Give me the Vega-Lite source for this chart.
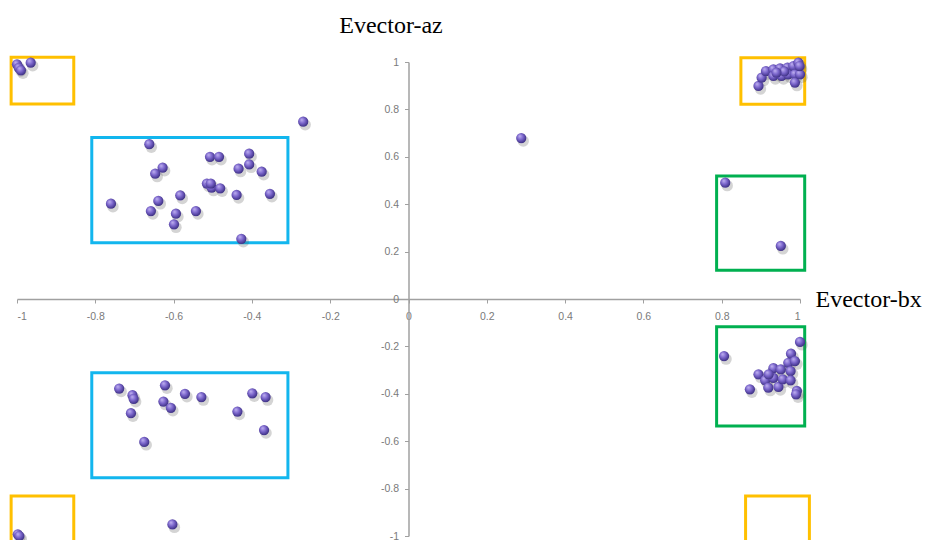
{
  "$schema": "https://vega.github.io/schema/vega-lite/v6.json",
  "autosize": "none",
  "width": 783,
  "height": 474,
  "padding": {"left": 17, "top": 62, "right": 128, "bottom": 4},
  "background": "white",
  "config": {"view": {"stroke": null}},
  "datasets": {
    "boxes": [
      {"kind": "orange", "x1": -1.015, "x2": -0.855, "y1": 1.02, "y2": 0.823},
      {"kind": "orange", "x1": 0.849, "x2": 1.012, "y1": 1.018, "y2": 0.822},
      {"kind": "orange", "x1": -1.015, "x2": -0.855, "y1": -0.831, "y2": -1.2},
      {"kind": "orange", "x1": 0.861, "x2": 1.024, "y1": -0.831, "y2": -1.2},
      {"kind": "cyan", "x1": -0.809, "x2": -0.308, "y1": 0.681, "y2": 0.2375},
      {"kind": "cyan", "x1": -0.809, "x2": -0.308, "y1": -0.311, "y2": -0.754},
      {"kind": "green", "x1": 0.787, "x2": 1.012, "y1": 0.519, "y2": 0.121},
      {"kind": "green", "x1": 0.787, "x2": 1.012, "y1": -0.117, "y2": -0.536}
    ],
    "pts": [
      {"bx": -1.0, "az": 0.99}, {"bx": -0.995, "az": 0.975}, {"bx": -0.99, "az": 0.965}, {"bx": -0.965, "az": 0.997},
      {"bx": -0.269, "az": 0.748},
      {"bx": -0.662, "az": 0.653}, {"bx": -0.507, "az": 0.6}, {"bx": -0.484, "az": 0.6}, {"bx": -0.407, "az": 0.613},
      {"bx": -0.407, "az": 0.568}, {"bx": -0.628, "az": 0.554}, {"bx": -0.647, "az": 0.529}, {"bx": -0.434, "az": 0.55},
      {"bx": -0.375, "az": 0.537}, {"bx": -0.515, "az": 0.487}, {"bx": -0.503, "az": 0.47}, {"bx": -0.505, "az": 0.487},
      {"bx": -0.481, "az": 0.467}, {"bx": -0.439, "az": 0.439}, {"bx": -0.354, "az": 0.444}, {"bx": -0.583, "az": 0.437},
      {"bx": -0.639, "az": 0.414}, {"bx": -0.76, "az": 0.402}, {"bx": -0.658, "az": 0.371}, {"bx": -0.594, "az": 0.36},
      {"bx": -0.543, "az": 0.371}, {"bx": -0.599, "az": 0.315}, {"bx": -0.427, "az": 0.254},
      {"bx": 0.894, "az": 0.899}, {"bx": 0.902, "az": 0.934}, {"bx": 0.913, "az": 0.962}, {"bx": 0.932, "az": 0.969},
      {"bx": 0.932, "az": 0.941}, {"bx": 0.949, "az": 0.973}, {"bx": 0.953, "az": 0.941}, {"bx": 0.968, "az": 0.976},
      {"bx": 0.97, "az": 0.948}, {"bx": 0.983, "az": 0.983}, {"bx": 0.987, "az": 0.948}, {"bx": 0.987, "az": 0.913},
      {"bx": 0.996, "az": 0.997}, {"bx": 1.0, "az": 0.948}, {"bx": 0.999, "az": 0.983}, {"bx": 0.96, "az": 0.96},
      {"bx": 0.94, "az": 0.955},
      {"bx": 0.288, "az": 0.679},
      {"bx": 0.809, "az": 0.491}, {"bx": 0.951, "az": 0.224},
      {"bx": 0.806, "az": -0.241}, {"bx": 1.0, "az": -0.181}, {"bx": 0.872, "az": -0.381}, {"bx": 0.894, "az": -0.318},
      {"bx": 0.911, "az": -0.343}, {"bx": 0.919, "az": -0.374}, {"bx": 0.932, "az": -0.292}, {"bx": 0.932, "az": -0.333},
      {"bx": 0.945, "az": -0.371}, {"bx": 0.951, "az": -0.297}, {"bx": 0.956, "az": -0.339}, {"bx": 0.97, "az": -0.269},
      {"bx": 0.977, "az": -0.231}, {"bx": 0.987, "az": -0.262}, {"bx": 0.976, "az": -0.304}, {"bx": 0.976, "az": -0.343},
      {"bx": 0.992, "az": -0.388}, {"bx": 0.99, "az": -0.402}, {"bx": 0.92, "az": -0.318},
      {"bx": -0.739, "az": -0.378}, {"bx": -0.705, "az": -0.406}, {"bx": -0.702, "az": -0.421}, {"bx": -0.709, "az": -0.482},
      {"bx": -0.622, "az": -0.364}, {"bx": -0.626, "az": -0.433}, {"bx": -0.607, "az": -0.459}, {"bx": -0.571, "az": -0.4},
      {"bx": -0.529, "az": -0.414}, {"bx": -0.399, "az": -0.398}, {"bx": -0.365, "az": -0.414}, {"bx": -0.437, "az": -0.475},
      {"bx": -0.369, "az": -0.553}, {"bx": -0.675, "az": -0.603}, {"bx": -0.603, "az": -0.951},
      {"bx": -0.998, "az": -0.993}, {"bx": -0.994, "az": -1.0}
    ]
  },
  "layer": [
    {
      "data": {"name": "boxes"},
      "mark": {"type": "rect", "fillOpacity": 0, "strokeWidth": 3, "clip": false},
      "encoding": {
        "x": {"field": "x1", "type": "quantitative", "scale": {"domain": [-1, 1], "nice": false, "zero": false},
          "axis": {
            "orient": "bottom", "offset": -237, "values": [-1, -0.8, -0.6, -0.4, -0.2, 0, 0.2, 0.4, 0.6, 0.8, 1],
            "labelExpr": "toString(datum.value)", "grid": false,
            "domainColor": "#a0a0a0", "domainWidth": 1.5, "tickColor": "#a0a0a0", "tickSize": 4,
            "labelFont": "Liberation Sans", "labelFontSize": 10.5, "labelColor": "#7a7a7a", "labelPadding": 8,
            "title": "Evector-bx", "titleFont": "Liberation Serif", "titleFontSize": 24, "titleFontWeight": "normal",
            "titleColor": "#000", "titleAlign": "left", "titleBaseline": "alphabetic", "titleX": 798, "titleY": 7, "titleAnchor": null
          }},
        "x2": {"field": "x2"},
        "y": {"field": "y1", "type": "quantitative", "scale": {"domain": [-1, 1], "nice": false, "zero": false},
          "axis": {
            "orient": "left", "offset": -391.5, "values": [-1, -0.8, -0.6, -0.4, -0.2, 0, 0.2, 0.4, 0.6, 0.8, 1],
            "labelExpr": "toString(datum.value)", "grid": false,
            "domainColor": "#a0a0a0", "domainWidth": 1.5, "tickColor": "#a0a0a0", "tickSize": 4,
            "labelFont": "Liberation Sans", "labelFontSize": 10.5, "labelColor": "#7a7a7a", "labelPadding": 6,
            "title": "Evector-az", "titleFont": "Liberation Serif", "titleFontSize": 24, "titleFontWeight": "normal",
            "titleColor": "#000", "titleAngle": 0, "titleAlign": "center", "titleBaseline": "alphabetic", "titleX": -18, "titleY": -30
          }},
        "y2": {"field": "y2"},
        "stroke": {"field": "kind", "type": "nominal", "legend": null,
          "scale": {"domain": ["orange", "cyan", "green"], "range": ["#FFC000", "#12B6EE", "#00B050"]}}
      }
    },
    {
      "data": {"name": "pts"},
      "mark": {"type": "point", "shape": "circle", "filled": true, "size": 130, "color": "#555", "opacity": 0.25, "xOffset": 2, "yOffset": 3, "clip": false},
      "encoding": {
        "x": {"field": "bx", "type": "quantitative"},
        "y": {"field": "az", "type": "quantitative"}
      }
    },
    {
      "data": {"name": "pts"},
      "mark": {"type": "point", "shape": "circle", "filled": true, "size": 105, "opacity": 1, "clip": false,
        "fill": {"gradient": "radial", "x1": 0.35, "y1": 0.3, "r1": 0, "x2": 0.45, "y2": 0.45, "r2": 0.65,
          "stops": [{"offset": 0, "color": "#c2b4f2"}, {"offset": 0.45, "color": "#7b66cc"}, {"offset": 1, "color": "#2c2170"}]},
        "stroke": null},
      "encoding": {
        "x": {"field": "bx", "type": "quantitative"},
        "y": {"field": "az", "type": "quantitative"}
      }
    }
  ]
}
